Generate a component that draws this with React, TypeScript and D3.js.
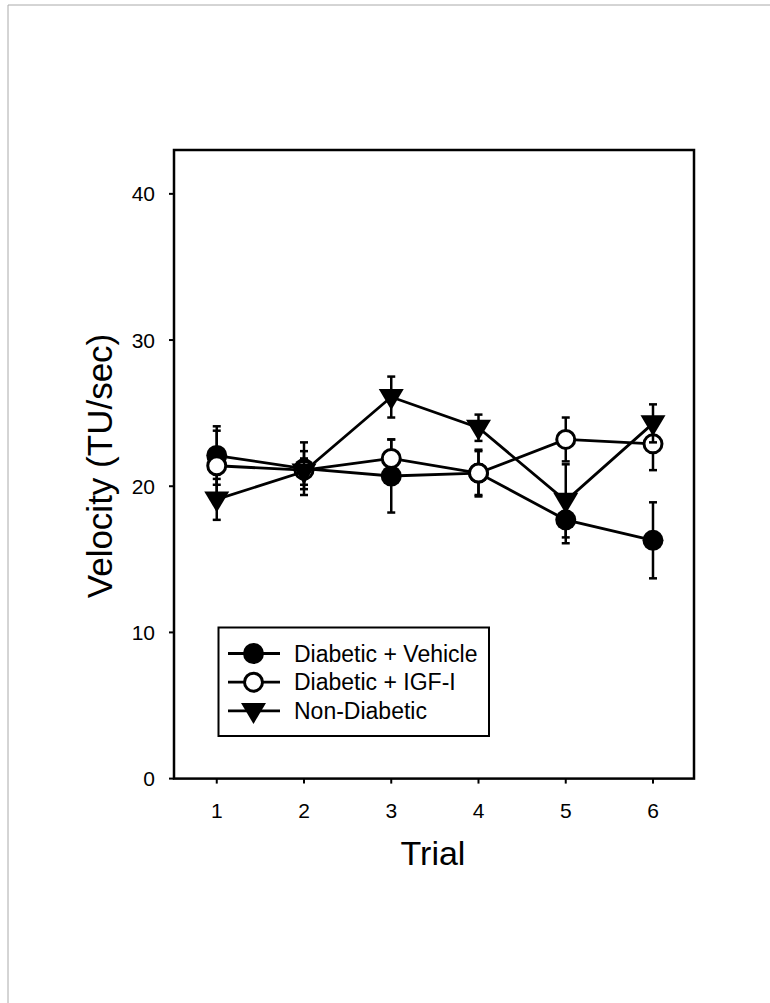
import React from "react";
import * as d3 from "d3";

const trials = [1, 2, 3, 4, 5, 6];
const yTicks = [0, 10, 20, 30, 40];
const seriesNames = ["Diabetic + Vehicle", "Diabetic + IGF-I", "Non-Diabetic"];
const vehicleMean = [22.1, 21.2, 20.7, 20.9, 17.7, 16.3];
const vehicleSE = [2.0, 1.8, 2.5, 1.6, 1.6, 2.6];
const igfMean = [21.4, 21.1, 21.9, 20.9, 23.2, 22.9];
const igfSE = [2.4, 1.3, 1.3, 1.5, 1.5, 1.8];
const ndMean = [19.1, 21.0, 26.1, 24.0, 19.0, 24.3];
const ndSE = [1.4, 0.9, 1.4, 0.9, 2.5, 1.3];

const W = 770;
const H = 1003;
const FONT = "Arial, 'Liberation Sans', Helvetica, sans-serif";

export default function App() {
  const x = d3.scaleLinear().domain([0.51, 6.47]).range([174, 694]);
  const y = d3.scaleLinear().domain([0, 43]).range([778.6, 150]);
  const line = d3
    .line<number>()
    .x((_, i) => x(trials[i]))
    .y((d) => y(d));

  const series = [
    { name: seriesNames[0], mean: vehicleMean, se: vehicleSE, kind: "filled" },
    { name: seriesNames[1], mean: igfMean, se: igfSE, kind: "open" },
    { name: seriesNames[2], mean: ndMean, se: ndSE, kind: "tri" },
  ];

  const marker = (kind: string, cx: number, cy: number, key: string) => {
    if (kind === "filled")
      return <circle key={key} cx={cx} cy={cy} r={10.5} fill="#000" />;
    if (kind === "open")
      return (
        <circle key={key} cx={cx} cy={cy} r={9} fill="#fff" stroke="#000" strokeWidth={3} />
      );
    const w = 12.5;
    return (
      <path
        key={key}
        d={`M${cx - w},${cy - 8} L${cx + w},${cy - 8} L${cx},${cy + 13} Z`}
        fill="#000"
      />
    );
  };

  const [x0, x1] = x.range();
  const [yb, yt] = y.range();

  return (
    <svg
      width={W}
      height={H}
      style={{ position: "absolute", left: 0, top: 0, background: "#fff" }}
      fontFamily={FONT}
    >
      <rect x={0} y={0} width={W} height={H} fill="#fff" />
      {/* scan page edges */}
      <line x1={8} x2={W} y1={5} y2={5} stroke="#aaa" strokeWidth={1} />
      <line x1={8} x2={8} y1={5} y2={H} stroke="#aaa" strokeWidth={1} />

      {/* frame */}
      <rect x={x0} y={yt} width={x1 - x0} height={yb - yt} fill="none" stroke="#000" strokeWidth={2.5} />

      {/* y ticks */}
      {yTicks.map((t) => (
        <g key={"yt" + t}>
          <line x1={x0 - 5} x2={x0} y1={y(t)} y2={y(t)} stroke="#000" strokeWidth={2} />
          <text x={x0 - 19} y={y(t)} textAnchor="end" dominantBaseline="central" fontSize={21}>
            {t}
          </text>
        </g>
      ))}
      {/* x ticks */}
      {trials.map((t) => (
        <g key={"xt" + t}>
          <line x1={x(t)} x2={x(t)} y1={yb} y2={yb + 5} stroke="#000" strokeWidth={2} />
          <text x={x(t)} y={yb + 39} textAnchor="middle" fontSize={21}>
            {t}
          </text>
        </g>
      ))}

      <text x={(x0 + x1) / 2 - 1} y={865} textAnchor="middle" fontSize={34}>
        Trial
      </text>
      <text
        transform={`translate(112, 466) rotate(-90)`}
        textAnchor="middle"
        fontSize={35}
      >
        Velocity (TU/sec)
      </text>

      {/* series */}
      {series.map((s, si) => (
        <g key={"s" + si}>
          <path d={line(s.mean) || ""} fill="none" stroke="#000" strokeWidth={2.8} />
          {s.mean.map((m, i) => {
            const cx = x(trials[i]);
            const top = y(m + s.se[i]);
            const bot = y(m - s.se[i]);
            return (
              <g key={"e" + i} stroke="#000" strokeWidth={2.5}>
                <line x1={cx} x2={cx} y1={top} y2={bot} />
                <line x1={cx - 4} x2={cx + 4} y1={top} y2={top} />
                <line x1={cx - 4} x2={cx + 4} y1={bot} y2={bot} />
              </g>
            );
          })}
          {s.mean.map((m, i) => marker(s.kind, x(trials[i]), y(m), "m" + i))}
        </g>
      ))}

      {/* legend */}
      <rect x={218.5} y={627.5} width={270.5} height={108.5} fill="#fff" stroke="#000" strokeWidth={2} />
      {series.map((s, i) => {
        const ly = 653.5 + i * 28.7;
        return (
          <g key={"lg" + i}>
            <line x1={228} x2={280} y1={ly} y2={ly} stroke="#000" strokeWidth={2.8} />
            {marker(s.kind, 253.5, ly, "lm" + i)}
            <text x={294} y={ly} dominantBaseline="central" fontSize={23}>
              {s.name}
            </text>
          </g>
        );
      })}
    </svg>
  );
}
